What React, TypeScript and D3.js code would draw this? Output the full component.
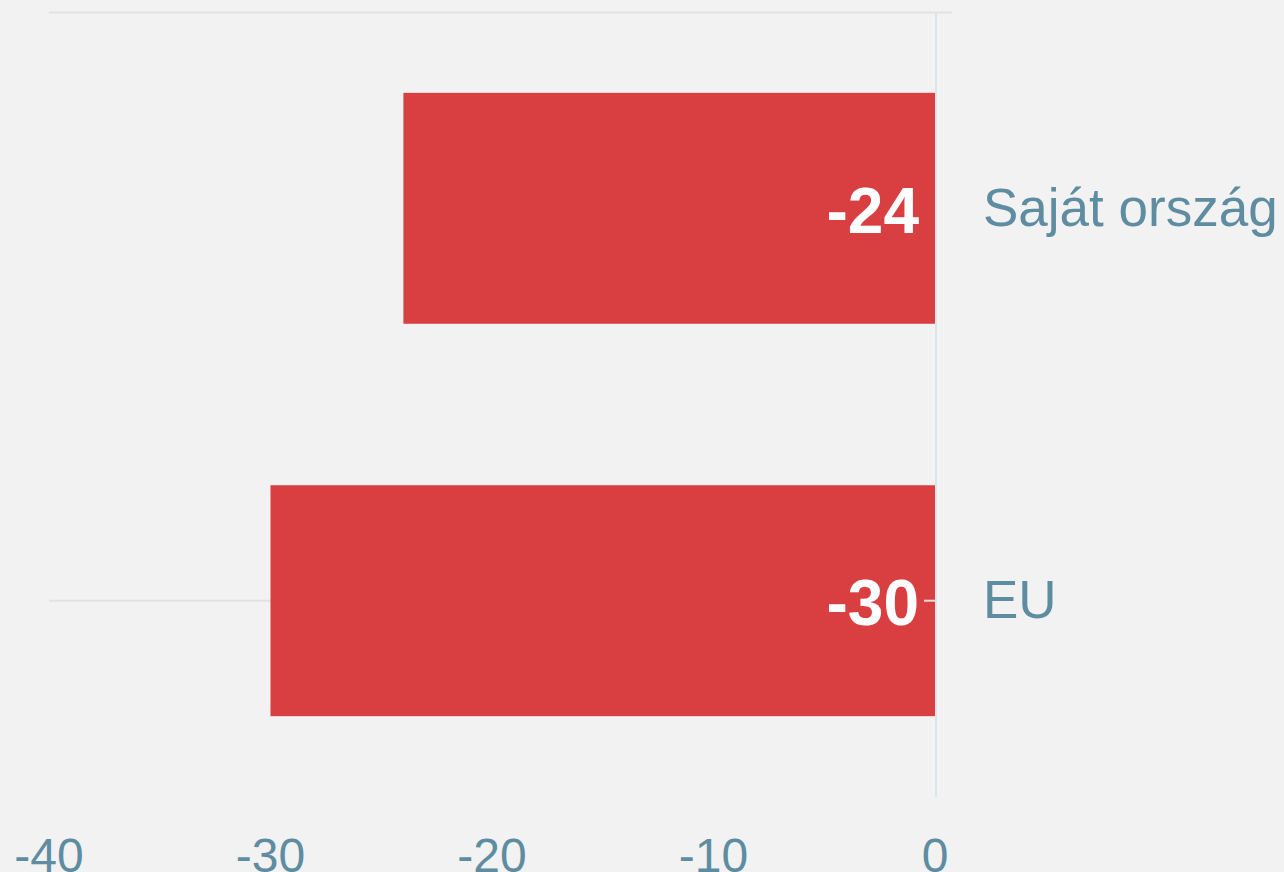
import * as d3 from "d3";
import React, { useRef, useEffect } from "react";

const categories = ["Saját ország", "EU"];
const values = [-24, -30];
const xTicks = [-40, -30, -20, -10, 0];

const App = () => {
  const ref = useRef<SVGSVGElement>(null);
  const width = 1284;
  const height = 872;

  useEffect(() => {
    document.body.style.margin = "0";
    const svg = d3.select(ref.current);
    svg.selectAll("*").remove();

    const font = "'Liberation Sans', Arial, sans-serif";
    const labelColor = "#5e8ca1";

    const x = d3.scaleLinear().domain([-40, 0]).range([49, 935]);
    const y = d3
      .scaleBand<string>()
      .domain(categories)
      .range([12, 797])
      .paddingInner(0.4115)
      .paddingOuter(0.206);

    svg.append("rect").attr("width", width).attr("height", height).attr("fill", "#f2f2f2");

    // gridlines
    svg
      .append("line")
      .attr("x1", x(-40))
      .attr("x2", x(0) + 17)
      .attr("y1", 12.5)
      .attr("y2", 12.5)
      .attr("stroke", "#e2e2e2")
      .attr("stroke-width", 2);

    const euY = (y("EU") as number) + y.bandwidth() / 2;
    svg
      .append("line")
      .attr("x1", x(-40))
      .attr("x2", x(0))
      .attr("y1", euY)
      .attr("y2", euY)
      .attr("stroke", "#e2e2e2")
      .attr("stroke-width", 2);

    // bars
    svg
      .append("g")
      .selectAll("rect")
      .data(values)
      .enter()
      .append("rect")
      .attr("x", (d) => x(d))
      .attr("y", (d, i) => y(categories[i]) as number)
      .attr("width", (d) => x(0) - x(d))
      .attr("height", y.bandwidth())
      .attr("fill", "#d93e40");

    // zero line
    svg
      .append("line")
      .attr("x1", x(0) + 1)
      .attr("x2", x(0) + 1)
      .attr("y1", 12)
      .attr("y2", 797)
      .attr("stroke", "#dae5e9")
      .attr("stroke-width", 2);

    // small tick at EU
    svg
      .append("line")
      .attr("x1", x(0) - 11)
      .attr("x2", x(0))
      .attr("y1", euY)
      .attr("y2", euY)
      .attr("stroke", "#e6dede")
      .attr("stroke-width", 2);

    // value labels
    svg
      .append("g")
      .selectAll("text")
      .data(values)
      .enter()
      .append("text")
      .attr("x", x(0) - 16)
      .attr("y", (d, i) => (y(categories[i]) as number) + y.bandwidth() / 2)
      .attr("dy", "0.38em")
      .attr("text-anchor", "end")
      .attr("font-family", font)
      .attr("font-weight", "bold")
      .attr("font-size", 64)
      .attr("fill", "#ffffff")
      .text((d) => d);

    // category labels
    svg
      .append("g")
      .selectAll("text")
      .data(categories)
      .enter()
      .append("text")
      .attr("x", x(0) + 48)
      .attr("y", (d) => (y(d) as number) + y.bandwidth() / 2)
      .attr("dy", "0.33em")
      .attr("font-family", font)
      .attr("font-size", 53)
      .attr("fill", labelColor)
      .text((d) => d);

    // x tick labels
    svg
      .append("g")
      .selectAll("text")
      .data(xTicks)
      .enter()
      .append("text")
      .attr("x", (d) => x(d))
      .attr("y", 872)
      .attr("text-anchor", "middle")
      .attr("font-family", font)
      .attr("font-size", 48)
      .attr("fill", labelColor)
      .text((d) => d);
  }, []);

  return <svg ref={ref} width={width} height={height} style={{ display: "block" }} />;
};

export default App;
